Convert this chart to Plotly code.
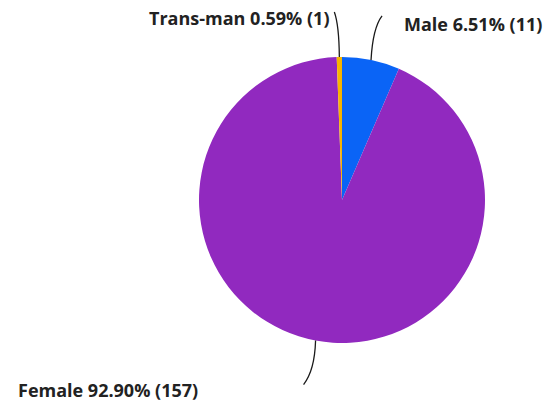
import math
import plotly.graph_objects as go

labels = ["Male", "Female", "Trans-man"]
values = [11, 157, 1]
percents = ["6.51%", "92.90%", "0.59%"]
colors = ["#0A64F6", "#9129BF", "#F7B500"]

W, H = 546, 406
cx, cy, R = 342, 200, 143

fig = go.Figure(go.Pie(
    labels=labels, values=values, sort=False, direction="clockwise", rotation=0,
    marker=dict(colors=colors, line=dict(width=0)),
    textinfo="none", hoverinfo="label+value+percent", showlegend=False,
    domain=dict(x=[(cx - R) / W, (cx + R) / W], y=[1 - (cy + R) / H, 1 - (cy - R) / H]),
))

layout_opts = {
    "Male": dict(end=(11, -44), ctrl=(6, -32), text=(20, 8), xanchor="left"),
    "Female": dict(end=(-12, 44), ctrl=(-3, 30), text=(-104, 5), xanchor="right"),
    "Trans-man": dict(end=(-5, -45), ctrl=(-1, -32), text=(-3, 6), xanchor="right"),
}

def px(x, y):
    return x / W, 1 - y / H

total = sum(values)
cum = 0
shapes, annotations = [], []
for lab, v, pct in zip(labels, values, percents):
    mid = (cum + v / 2) / total
    cum += v
    ang = 2 * math.pi * mid
    ax, ay = cx + R * math.sin(ang), cy - R * math.cos(ang)
    o = layout_opts[lab]
    ex, ey = ax + o["end"][0], ay + o["end"][1]
    qx, qy = ax + o["ctrl"][0] * 0.3, ay + o["ctrl"][1]
    p0, p1, p2 = px(ax, ay), px(qx, qy), px(ex, ey)
    shapes.append(dict(type="path", xref="paper", yref="paper",
                       path=f"M {p0[0]},{p0[1]} Q {p1[0]},{p1[1]} {p2[0]},{p2[1]}",
                       line=dict(color="#1a1a1a", width=1.3)))
    tx, ty = px(ex + o["text"][0], ey + o["text"][1])
    annotations.append(dict(x=tx, y=ty, xref="paper", yref="paper", showarrow=False,
                            text=f"{lab} {pct} ({v})", xanchor=o["xanchor"], yanchor="middle",
                            font=dict(family="Open Sans", size=18, color="#222222", weight=700)))

fig.update_layout(width=W, height=H, margin=dict(l=0, r=0, t=0, b=0),
                  paper_bgcolor="white", plot_bgcolor="white",
                  shapes=shapes, annotations=annotations)
fig.write_html("out.html", config={"displayModeBar": False},
               post_script="document.body.style.margin='0';")
